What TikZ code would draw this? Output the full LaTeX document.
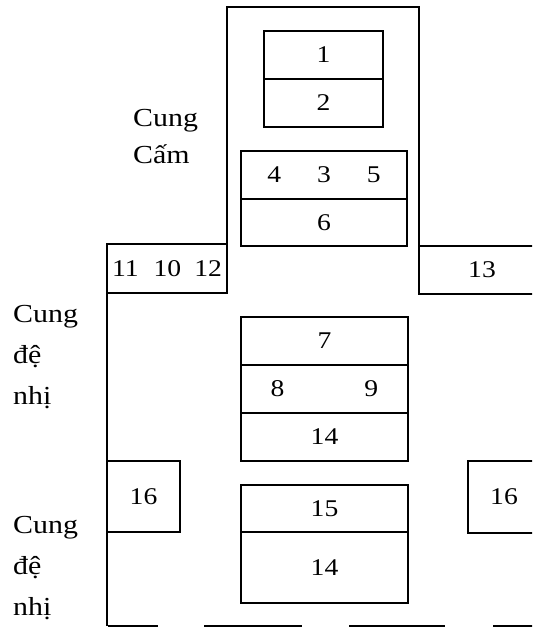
\documentclass[tikz,border=0pt]{standalone}
\usepackage{fontspec}
\setmainfont{Liberation Serif}[FakeStretch=1.15]
\usetikzlibrary{positioning}
\tikzset{
    % Walls and rooms
    wall/.style={line width=1.6pt, black},
    cell/.style={draw, wall, inner sep=0pt, outer sep=0pt, font=\fontsize{24}{26}\selectfont},
    %
    % Hall names
    hall/.style={anchor=base west, inner sep=0pt, font=\fontsize{26}{30}\selectfont}
}

\begin{document}
\begin{tikzpicture}[x=1pt,y=-1pt]
    \useasboundingbox (0,0) rectangle (532,628);
    \clip (0,0) rectangle (532,628);
    % front block
    \node[cell, minimum width=119pt, minimum height=48pt] (c1) at (323.5,55) {1};
    \node[cell, minimum width=119pt, minimum height=48pt, below=0pt of c1] (c2) {2};
    \node[cell, minimum width=166pt, minimum height=48pt] (c435) at (324,175) {4\hspace{36pt}3\hspace{36pt}5};
    \node[cell, minimum width=166pt, minimum height=47pt, below=0pt of c435] (c6) {6};
    % side cells
    \node[cell, minimum width=120pt, minimum height=49pt] (c11) at (167,268.5) {11\hspace{15pt}10\hspace{13pt}12};
    \node[cell, minimum width=126pt, minimum height=48pt] (c13) at (482,270) {13};
    \node[cell, minimum width=73pt, minimum height=71pt] (c16a) at (143.5,496.5) {16};
    \node[cell, minimum width=72pt, minimum height=72pt] (c16b) at (504,497) {16};
    % middle block
    \node[cell, minimum width=167pt, minimum height=48pt] (c7) at (324.5,341) {7};
    \node[cell, minimum width=167pt, minimum height=48pt, below=0pt of c7] (c89) {8\hspace{80pt}9};
    \node[cell, minimum width=167pt, minimum height=48pt, below=0pt of c89] (c14a) {14};
    % rear block
    \node[cell, minimum width=167pt, minimum height=47pt] (c15) at (324.5,508.5) {15};
    \node[cell, minimum width=167pt, minimum height=71pt, below=0pt of c15] (c14b) {14};
    % outer walls
    \draw[wall] (c11.north east) -- (227,7) -- (419,7) -- (c13.north west);
    \draw[wall] (c11.south west) -- (c11.south west |- 0,626);
    \foreach \a/\b in {108/158, 204/302, 349/445, 493/540}{
        \draw[wall] (\a,626) -- (\b,626);
    }
    % hall names
    \node[hall] (cc1) at (133,127) {Cung};
    \node[hall] (cc2) at (133,164) {Cấm};
    \foreach \y/\w [count=\i] in {322/Cung, 363/đệ, 404/nhị, 533/Cung, 574/đệ, 615/nhị}{
        \node[hall] (dn\i) at (13,\y) {\w};
    }
\end{tikzpicture}
\end{document}
